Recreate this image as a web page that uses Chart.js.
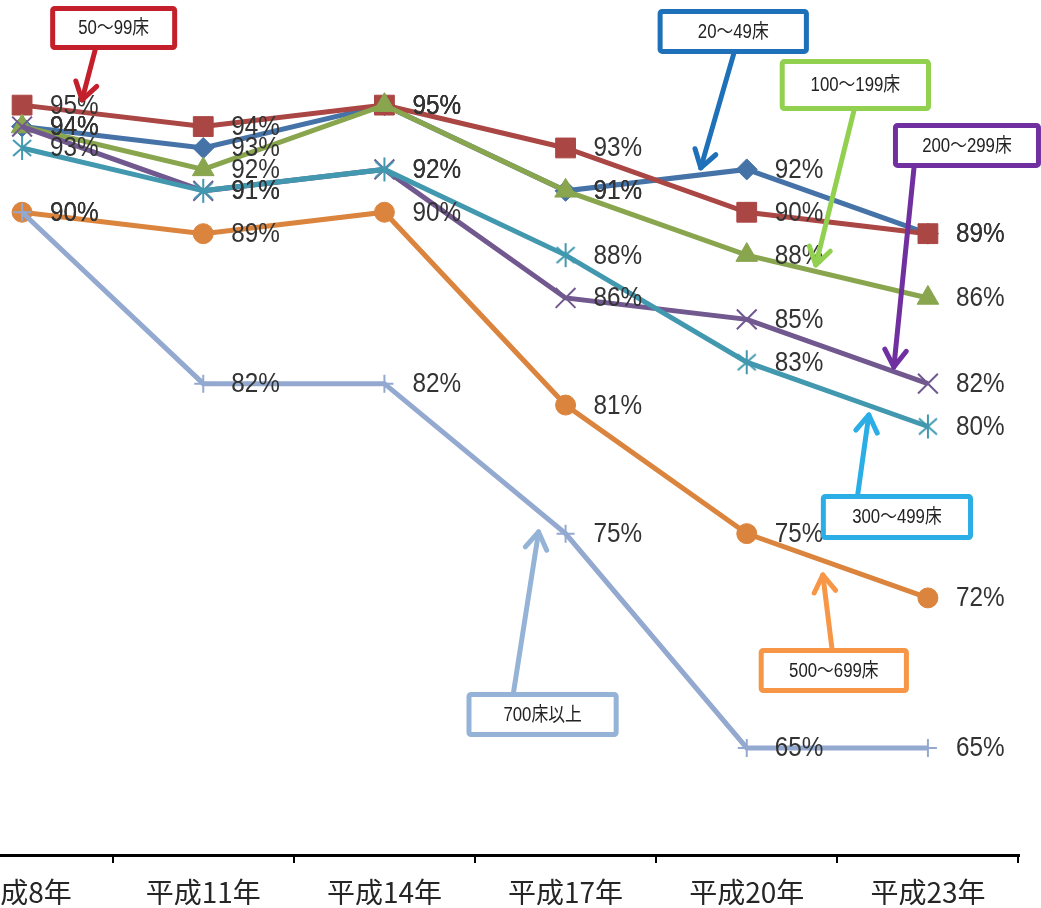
<!DOCTYPE html>
<html>
<head>
<meta charset="utf-8">
<script src="https://cdn.jsdelivr.net/npm/chart.js@4.4.1/dist/chart.umd.min.js"></script>
<style>
  html, body { margin: 0; padding: 0; background: #fff; overflow: hidden; width: 1041px; height: 908px; position: relative; }
  #wrap { position: absolute; left: -100px; top: -12px; width: 1141px; height: 917px; }
</style>
</head>
<body>
<div id="wrap"><canvas id="c"></canvas></div>
<script>
// Survey years (x categories)
const years = ['平成8年', '平成11年', '平成14年', '平成17年', '平成20年', '平成23年'];

// Rate (%) by hospital size
const seriesNames = ['20～49床', '50～99床', '100～199床', '200～299床', '300～499床', '500～699床', '700床以上'];
const beds20to49   = [94, 93, 95, 91, 92, 89];
const beds50to99   = [95, 94, 95, 93, 90, 89];
const beds100to199 = [94, 92, 95, 91, 88, 86];
const beds200to299 = [94, 91, 92, 86, 85, 82];
const beds300to499 = [93, 91, 92, 88, 83, 80];
const beds500to699 = [90, 89, 90, 81, 75, 72];
const beds700plus  = [90, 82, 82, 75, 65, 65];

// Value axis range
const yMin = 60;
const yMax = 100;

const lineColors = ['#4572A7', '#AA4643', '#89A54E', '#71588F', '#4198AF', '#DB843D', '#93A9CF'];

// Six-armed asterisk marker (X plus a vertical bar)
function asteriskMarker(color) {
  const c = document.createElement('canvas');
  c.width = 26; c.height = 26;
  const g = c.getContext('2d');
  g.strokeStyle = color;
  g.lineWidth = 2;
  g.beginPath();
  g.moveTo(13, 1); g.lineTo(13, 25);
  g.moveTo(4, 5); g.lineTo(22, 21);
  g.moveTo(22, 5); g.lineTo(4, 21);
  g.stroke();
  return c;
}

const markerStyles = [
  { pointStyle: 'rectRot',  pointRadius: 10.5, pointBorderWidth: 1 },
  { pointStyle: 'rect',     pointRadius: 14, pointBorderWidth: 1 },
  { pointStyle: 'triangle', pointRadius: 12.5, pointBorderWidth: 1 },
  { pointStyle: 'crossRot', pointRadius: 14, pointBorderWidth: 2 },
  { pointStyle: asteriskMarker(lineColors[4]), pointRadius: 12, pointBorderWidth: 2 },
  { pointStyle: 'circle',   pointRadius: 10, pointBorderWidth: 1 },
  { pointStyle: 'cross',    pointRadius: 9,  pointBorderWidth: 2 }
];

const seriesValues = [beds20to49, beds50to99, beds100to199, beds200to299, beds300to499, beds500to699, beds700plus];

const datasets = seriesValues.map((vals, i) => Object.assign({
  label: seriesNames[i],
  data: vals,
  borderColor: lineColors[i],
  backgroundColor: lineColors[i],
  pointBackgroundColor: lineColors[i],
  pointBorderColor: lineColors[i],
  borderWidth: 5,
  tension: 0,
  order: seriesValues.length - i
}, markerStyles[i]));

// Callout boxes with arrows, placed in axis units (category index, percent)
const callouts = [
  { text: '50～99床',   color: '#C3202B', box: [0.155, 99.63, 0.856, 97.57], from: [0.403, 97.57], to: [0.331, 95.24] },
  { text: '20～49床',   color: '#1E71B8', box: [3.508, 99.49, 4.343, 97.39], from: [3.928, 97.39], to: [3.746, 92.07] },
  { text: '100～199床', color: '#92D050', box: [4.182, 97.15, 5.017, 94.72], from: [4.591, 94.72], to: [4.381, 87.54] },
  { text: '200～299床', color: '#7030A0', box: [4.807, 94.17, 5.624, 92.07], from: [4.923, 92.07], to: [4.812, 82.78] },
  { text: '300～499床', color: '#2AAEE5', box: [4.409, 76.85, 5.249, 74.70], from: [4.613, 76.85], to: [4.674, 80.54] },
  { text: '500～699床', color: '#F79646', box: [4.066, 69.66, 4.895, 67.56], from: [4.470, 69.66], to: [4.420, 73.07] },
  { text: '700床以上',  color: '#95B3D7', box: [2.453, 67.61, 3.293, 65.51], from: [2.713, 67.61], to: [2.851, 75.08] }
];

const valueLabels = {
  id: 'valueLabels',
  afterDatasetsDraw(chart) {
    const ctx = chart.ctx;
    ctx.save();
    ctx.font = '27px "Liberation Sans", Arial, sans-serif';
    ctx.fillStyle = '#333333';
    ctx.textAlign = 'left';
    ctx.textBaseline = 'middle';
    chart.data.datasets.forEach((ds, di) => {
      const meta = chart.getDatasetMeta(di);
      meta.data.forEach((pt, j) => {
        ctx.save();
        ctx.translate(pt.x + 28, pt.y + 1);
        ctx.scale(0.9, 1);
        ctx.fillText(ds.data[j] + '%', 0, 0);
        ctx.restore();
      });
    });
    ctx.restore();
  }
};

const calloutPlugin = {
  id: 'callouts',
  afterDraw(chart) {
    const ctx = chart.ctx;
    const xs = chart.scales.x, ys = chart.scales.y;
    const px = i => xs.getPixelForValue(i);
    const py = v => ys.getPixelForValue(v);
    callouts.forEach(c => {
      const x0 = px(c.box[0]), y0 = py(c.box[1]), x1 = px(c.box[2]), y1 = py(c.box[3]);
      const fx = px(c.from[0]), fy = py(c.from[1]);
      const tx = px(c.to[0]), ty = py(c.to[1]);
      ctx.save();
      ctx.strokeStyle = c.color;
      ctx.lineWidth = 5;
      ctx.lineCap = 'round';
      ctx.lineJoin = 'round';
      // shaft
      ctx.beginPath();
      ctx.moveTo(fx, fy);
      ctx.lineTo(tx, ty);
      ctx.stroke();
      // open arrow head
      const ang = Math.atan2(ty - fy, tx - fx);
      const len = 20, spread = Math.PI / 5.5;
      ctx.beginPath();
      ctx.moveTo(tx - len * Math.cos(ang - spread), ty - len * Math.sin(ang - spread));
      ctx.lineTo(tx, ty);
      ctx.lineTo(tx - len * Math.cos(ang + spread), ty - len * Math.sin(ang + spread));
      ctx.stroke();
      // box
      ctx.beginPath();
      ctx.roundRect(x0 + 2.5, y0 + 2.5, x1 - x0 - 5, y1 - y0 - 5, 2);
      ctx.fillStyle = '#ffffff';
      ctx.fill();
      ctx.stroke();
      // text
      ctx.fillStyle = '#222222';
      ctx.font = '19.5px "Liberation Sans", "Noto Sans CJK JP", sans-serif';
      ctx.textAlign = 'center';
      ctx.textBaseline = 'middle';
      ctx.translate((x0 + x1) / 2, (y0 + y1) / 2 + 1);
      ctx.scale(0.86, 1);
      ctx.fillText(c.text, 0, 0);
      ctx.restore();
    });
  }
};

new Chart(document.getElementById('c'), {
  type: 'line',
  data: { labels: years, datasets },
  options: {
    responsive: true,
    maintainAspectRatio: false,
    animation: false,
    events: [],
    layout: { autoPadding: false, padding: { left: 31.5, right: 22.5, top: 10, bottom: 0 } },
    plugins: { legend: { display: false }, tooltip: { enabled: false } },
    scales: {
      x: {
        type: 'category',
        offset: true,
        afterFit: s => { s.height = 50; },
        border: { display: true, color: '#000000', width: 3 },
        grid: { offset: true, drawOnChartArea: false, drawTicks: true, tickLength: 8, color: '#000000', lineWidth: 2 },
        ticks: {
          color: '#262626',
          padding: 13,
          maxRotation: 0,
          autoSkip: false,
          font: { family: '"Noto Sans CJK JP", sans-serif', size: 28 }
        }
      },
      y: { display: false, min: yMin, max: yMax }
    }
  },
  plugins: [valueLabels, calloutPlugin]
});
</script>
</body>
</html>
